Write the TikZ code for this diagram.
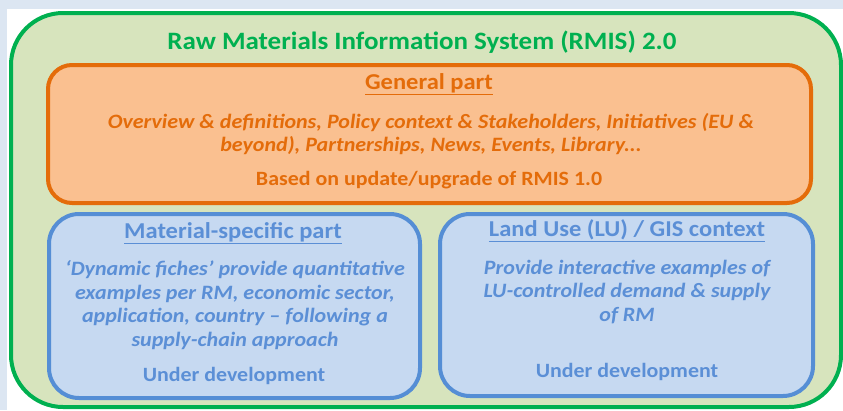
\documentclass[tikz,border=0pt]{standalone}
\usepackage{fontspec}
\setmainfont{Carlito}[FakeStretch=1.08]
\usepackage{tikz}
\definecolor{rmisgreen}{HTML}{00B050}
\definecolor{rmisgreenfill}{HTML}{D7E4BD}
\definecolor{genorange}{HTML}{E46C0A}
\definecolor{genfill}{HTML}{FAC090}
\definecolor{partblue}{HTML}{558ED5}
\definecolor{parttext}{HTML}{5B8FD6}
\definecolor{partfill}{HTML}{C6D9F1}
\definecolor{pagebg}{HTML}{DCE6F2}

\begin{document}
\begin{tikzpicture}[
            x=1pt,y=-1pt,
            boxnode/.style={
            draw,
            line width=4pt,
            inner sep=0pt
            },
            headtext/.style={inner sep=0pt,font=\bfseries\fontsize{22.7}{26}\selectfont},
            bodytext/.style={inner sep=0pt,align=center,font=\bfseries\itshape\fontsize{20.4}{23.5}\selectfont},
            devtext/.style={inner sep=0pt,font=\bfseries\fontsize{20.3}{23.5}\selectfont}
            ]
            \useasboundingbox (0,0) rectangle (843,410);
            \fill[pagebg] (0,0) rectangle (843,410);
            \fill[white] (7,9) rectangle (843,410);
            % outer frame
            \node[boxnode,draw=rmisgreen,fill=rmisgreenfill,rounded corners=52pt,
                  minimum width=830pt,minimum height=394pt] (rmis) at (426,210) {};
            \node[text=rmisgreen,inner sep=0pt,font=\bfseries\fontsize{25}{28}\selectfont]
                  (rmistitle) at (422,42) {Raw Materials Information System (RMIS) 2.0};
            % general part
            \node[boxnode,draw=genorange,fill=genfill,rounded corners=24pt,
                  minimum width=763pt,minimum height=138pt] (general) at (429.5,134) {};
            \node[headtext,text=genorange] (generalhead) at (429,84) {\underline{General part}};
            \node[bodytext,text=genorange] (generaltext) at (431,134)
                  {Overview \& definitions, Policy context \& Stakeholders, Initiatives (EU \&\\
                   beyond), Partnerships, News, Events, Library...};
            \node[devtext,text=genorange] (generalbase) at (429,180) {Based on update/upgrade of RMIS 1.0};
            % material-specific part
            \node[boxnode,draw=partblue,fill=partfill,rounded corners=30pt,
                  minimum width=371pt,minimum height=184pt] (material) at (234.5,306) {};
            \node[headtext,text=parttext] (materialhead) at (233,233) {\underline{Material-specific part}};
            \node[bodytext,text=parttext] (materialtext) at (235,305)
                  {‘Dynamic fiches’ provide quantitative\\
                   examples per RM, economic sector,\\
                   application, country – following a\\
                   supply-chain approach};
            \node[devtext,text=parttext] (materialdev) at (234,376) {Under development};
            % land use part
            \node[boxnode,draw=partblue,fill=partfill,rounded corners=30pt,
                  minimum width=373pt,minimum height=182pt] (landuse) at (626.5,305) {};
            \node[headtext,text=parttext] (landusehead) at (627,231) {\underline{Land Use (LU) / GIS context}};
            \node[bodytext,text=parttext] (landusetext) at (627,292)
                  {Provide interactive examples of\\
                   LU-controlled demand \& supply\\
                   of RM};
            \node[devtext,text=parttext] (landusedev) at (627,372) {Under development};
        \end{tikzpicture}
\end{document}
